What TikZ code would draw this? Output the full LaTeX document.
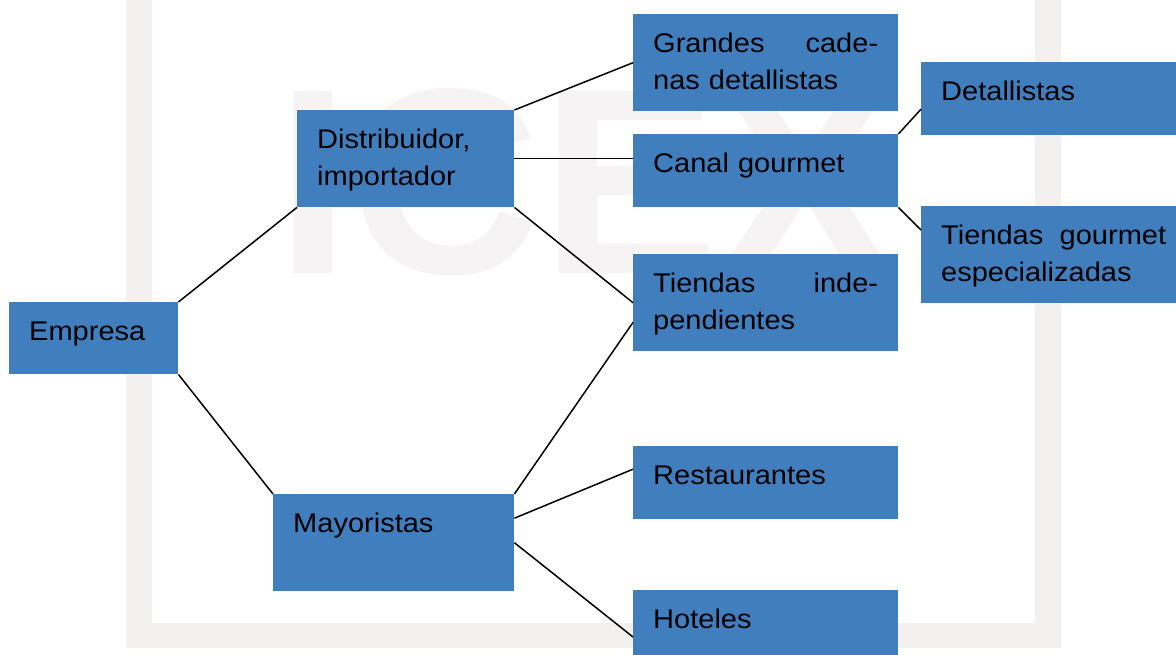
\documentclass[tikz,border=0pt]{standalone}
\usepackage{fontspec}
\setmainfont{Liberation Sans}[FakeStretch=1.075]
\newfontfamily\marcafont{Liberation Sans}
\definecolor{boxblue}{RGB}{64,126,190}
\definecolor{marco}{RGB}{243,240,240}
\definecolor{letras}{RGB}{245,243,243}
\begin{document}
\begin{tikzpicture}[x=1pt, y=-1pt,
    canal/.style 2 args={fill=boxblue, anchor=north west, inner xsep=20pt, inner ysep=0pt,
        minimum width=#1, text width=#1-40, text height=38pt, text depth=#2-38,
        align=left, font=\fontsize{27}{37}\selectfont},
    enlace/.style={line width=1.5pt}]
    \useasboundingbox (0,0) rectangle (1176,655);
    % Marca de agua
    \fill[marco] (126,0) -- (126,648) -- (1061,648) -- (1061,0) -- (1035,0)
        -- (1035,623) -- (152,623) -- (152,0) -- cycle;
    \node[anchor=base west, inner sep=0pt, text=letras,
        font=\marcafont\fontsize{265}{265}\bfseries\selectfont] (icex) at (276,273) {ICEX};
    % Canales
    \node[canal={169}{72}] (emp) at (9,302) {Empresa};
    \node[canal={217}{97}] (dist) at (297,110) {Distribuidor,\\importador};
    \node[canal={241}{97}] (may) at (273,494) {Mayoristas};
    \node[canal={265}{97}] (gran) at (633,14) {Grandes\hfill cade-\\nas detallistas};
    \node[canal={265}{73}] (gour) at (633,134) {Canal gourmet};
    \node[canal={265}{97}] (indep) at (633,254) {Tiendas\hfill inde-\\pendientes};
    \node[canal={265}{73}] (rest) at (633,446) {Restaurantes};
    \node[canal={265}{73}] (hot) at (633,590) {Hoteles};
    \node[canal={265}{73}] (det) at (921,62) {Detallistas};
    \node[canal={265}{97}] (espec) at (921,206) {Tiendas\hfill gourmet\\especializadas};
    % Enlaces
    \draw[enlace] (emp.north east) -- (dist.south west);
    \draw[enlace] (emp.south east) -- (may.north west);
    \draw[enlace] (dist.north east) -- (gran.west);
    \draw[enlace] (dist.east) -- (dist.east -| gour.west);
    \draw[enlace] (dist.south east) -- (indep.west);
    \draw[enlace] (may.north east) -- ([yshift=29pt]indep.south west);
    \draw[enlace] ([yshift=24.5pt]may.east) -- ([yshift=13.5pt]rest.west);
    \draw[enlace] (may.east) -- ([yshift=-47pt]hot.north west);
    \draw[enlace] (gour.north east) -- ([yshift=-10.5pt]det.west);
    \draw[enlace] (gour.south east) -- ([yshift=-24pt]espec.north west);
\end{tikzpicture}
\end{document}
